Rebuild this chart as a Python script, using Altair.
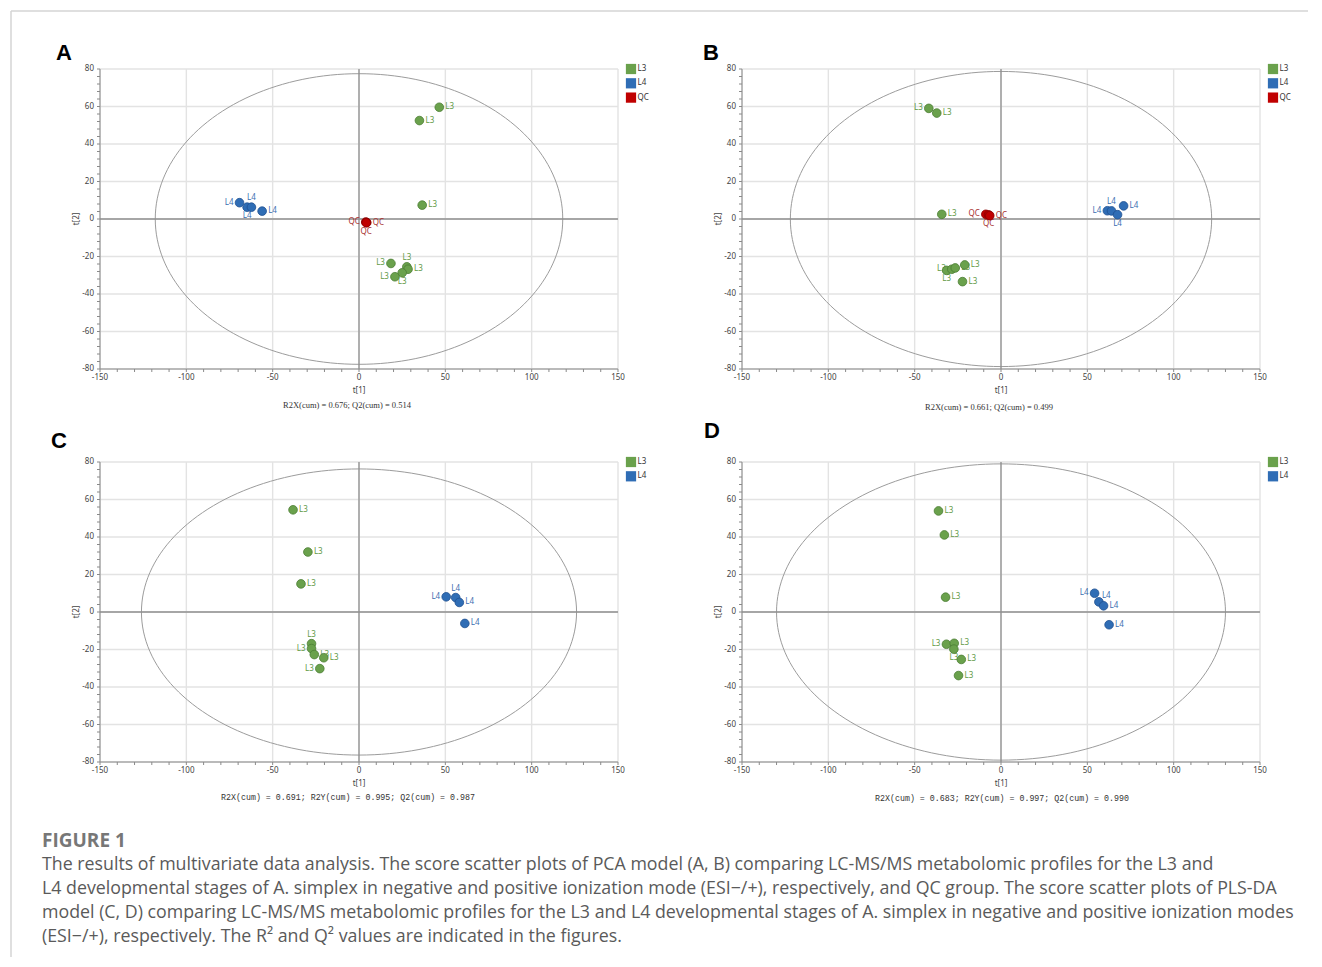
import altair as alt
import pandas as pd

# ---------------- data ----------------
A_t1 = [46.5, 35.0, 36.6, 18.5, 27.7, 28.4, 25.0, 20.8, -69.2, -64.8, -62.3, -56.1, 3.9, 4.5, 4.2]
A_t2 = [59.6, 52.5, 7.4, -23.7, -25.5, -26.8, -28.7, -30.8, 8.7, 6.3, 6.3, 4.2, -1.6, -1.9, -2.0]
A_group = ["L3", "L3", "L3", "L3", "L3", "L3", "L3", "L3", "L4", "L4", "L4", "L4", "QC", "QC", "QC"]
A_side = ["right", "right", "right", "left", "top", "right", "bottom", "left",
          "left", "bottom", "top", "right", "left", "right", "bottom"]

B_t1 = [-41.8, -37.2, -34.3, -31.5, -28.5, -26.5, -21.0, -22.3, 61.6, 64.0, 67.5, 71.0, -8.8, -7.2, -6.5]
B_t2 = [59.0, 56.5, 2.5, -27.4, -26.8, -26.1, -24.5, -33.4, 4.4, 4.3, 2.3, 7.0, 2.5, 2.2, 1.8]
B_group = ["L3", "L3", "L3", "L3", "L3", "L3", "L3", "L3", "L4", "L4", "L4", "L4", "QC", "QC", "QC"]
B_side = ["left", "right", "right", "bottom", "left", "right", "right", "right",
          "left", "top", "bottom", "right", "left", "bottom", "right"]

C_t1 = [-38.2, -29.6, -33.6, -27.5, -27.5, -25.9, -20.4, -22.7, 50.5, 56.0, 58.1, 61.3]
C_t2 = [54.5, 32.0, 15.0, -16.9, -19.5, -22.7, -24.4, -30.2, 8.1, 7.7, 5.1, -6.1]
C_group = ["L3", "L3", "L3", "L3", "L3", "L3", "L3", "L3", "L4", "L4", "L4", "L4"]
C_side = ["right", "right", "right", "top", "left", "right", "right", "left",
          "left", "top", "right", "right"]

D_t1 = [-36.2, -32.8, -32.1, -31.6, -27.1, -27.3, -23.0, -24.6, 54.2, 56.7, 59.4, 62.6]
D_t2 = [53.9, 41.1, 7.9, -17.2, -16.7, -19.8, -25.3, -33.9, 10.0, 5.4, 3.3, -6.8]
D_group = ["L3", "L3", "L3", "L3", "L3", "L3", "L3", "L3", "L4", "L4", "L4", "L4"]
D_side = ["right", "right", "right", "left", "right", "bottom", "right", "right",
          "left", "topright", "right", "right"]

# Hotelling T2 ellipse semi-axes (t[1], t[2]) per panel
ELLIPSE = {"A": (118, 77.5), "B": (122, 78.7), "C": (126, 76.3), "D": (130, 79.0)}

SUBTITLES = {
    "A": "R2X(cum) = 0.676; Q2(cum) = 0.514",
    "B": "R2X(cum) = 0.661; Q2(cum) = 0.499",
    "C": "R2X(cum) = 0.691; R2Y(cum) = 0.995; Q2(cum) = 0.987",
    "D": "R2X(cum) = 0.683; R2Y(cum) = 0.997; Q2(cum) = 0.990",
}

X_MAJOR = [-150, -100, -50, 0, 50, 100, 150]
Y_MAJOR = [-80, -60, -40, -20, 0, 20, 40, 60, 80]
X_TICKS = list(range(-150, 151, 10))
Y_TICKS = list(range(-80, 81, 4))
X_TITLE, Y_TITLE = "t[1]", "t[2]"

FILL = {"L3": "#6aa14c", "L4": "#2f6db5", "QC": "#c00000"}
STROKE = {"L3": "#4b7d33", "L4": "#1f5190", "QC": "#8a0000"}
TEXTC = {"L3": "#5f9a45", "L4": "#3b6eb0", "QC": "#a83232"}

CAPTION_HEAD = "FIGURE 1"
CAPTION = ("The results of multivariate data analysis. The score scatter plots of PCA model (A, B) comparing LC-MS/MS metabolomic profiles for the L3 and\n"
           "L4 developmental stages of A. simplex in negative and positive ionization mode (ESI\u2212/+), respectively, and QC group. The score scatter plots of PLS-DA\n"
           "model (C, D) comparing LC-MS/MS metabolomic profiles for the L3 and L4 developmental stages of A. simplex in negative and positive ionization modes\n"
           "(ESI\u2212/+), respectively. The R\u00b2 and Q\u00b2 values are indicated in the figures.")

TICK_FONT = "Noto Sans"
AX_COL = "#8a8a8a"
LAB_COL = "#444444"
W, H = 518, 300


def one():
    return alt.Chart(pd.DataFrame({"k": [0]}))


def panel(key, t1, t2, grp, side, letter_xy, sub_xy, sub_font, extra=()):
    dom = [g for g in ["L3", "L4", "QC"] if g in grp]
    df = pd.DataFrame({"t1": t1, "t2": t2, "group": grp, "side": side})
    xs = alt.Scale(domain=[-150, 150], nice=False, zero=False)
    ys = alt.Scale(domain=[-80, 80], nice=False, zero=False)

    def X(f):
        return alt.X(f, type="quantitative", scale=xs, axis=None)

    def Y(f):
        return alt.Y(f, type="quantitative", scale=ys, axis=None)

    xmaj = pd.DataFrame({"g": X_MAJOR})
    ymaj = pd.DataFrame({"g": Y_MAJOR})
    # grid
    gridx = alt.Chart(xmaj).mark_rule(color="#e3e3e3", strokeWidth=1.4).encode(x=X("g"))
    gridy = alt.Chart(ymaj).mark_rule(color="#e3e3e3", strokeWidth=1.4).encode(y=Y("g"))
    # axis lines, ticks and labels
    xdom = one().mark_rule(color=AX_COL, strokeWidth=1).encode(
        x=alt.value(0), x2=alt.value(W), y=alt.value(H))
    ydom = one().mark_rule(color=AX_COL, strokeWidth=1).encode(
        y=alt.value(0), y2=alt.value(H), x=alt.value(0))
    xtick = alt.Chart(pd.DataFrame({"g": X_TICKS})).mark_rule(color=AX_COL, strokeWidth=1).encode(
        x=X("g"), y=alt.value(H), y2=alt.value(H + 3))
    ytick = alt.Chart(pd.DataFrame({"g": Y_TICKS})).mark_rule(color=AX_COL, strokeWidth=1).encode(
        y=Y("g"), x=alt.value(-3), x2=alt.value(0))
    xlab = alt.Chart(xmaj).transform_calculate(s="'' + datum.g").mark_text(
        font=TICK_FONT, fontSize=8, color=LAB_COL, align="center", baseline="top").encode(
        x=X("g"), y=alt.value(H + 5), text="s:N")
    ylab = alt.Chart(ymaj).transform_calculate(s="'' + datum.g").mark_text(
        font=TICK_FONT, fontSize=8, color=LAB_COL, align="right", baseline="middle").encode(
        y=Y("g"), x=alt.value(-6), text="s:N")
    xtitle = one().mark_text(text=X_TITLE, font=TICK_FONT, fontSize=8, color=LAB_COL,
                             align="center", baseline="middle").encode(
        x=alt.value(W / 2), y=alt.value(H + 22))
    ytitle = one().mark_text(text=Y_TITLE, font=TICK_FONT, fontSize=8, color=LAB_COL, angle=270,
                             align="center", baseline="middle").encode(
        x=alt.value(-23), y=alt.value(H / 2))

    a, b = ELLIPSE[key]
    ell = alt.Chart(alt.sequence(0, 362, 2, as_="deg")).transform_calculate(
        ex=f"{a}*cos(datum.deg*PI/180)", ey=f"{b}*sin(datum.deg*PI/180)"
    ).mark_line(color="#9c9c9c", strokeWidth=1).encode(x=X("ex"), y=Y("ey"), order="deg:Q")
    zero = pd.DataFrame({"v": [0]})
    vz = alt.Chart(zero).mark_rule(color="#8f8f8f", strokeWidth=1.3).encode(x=X("v"))
    hz = alt.Chart(zero).mark_rule(color="#8f8f8f", strokeWidth=1.3).encode(y=Y("v"))

    text_fill = alt.Fill("group:N", scale=alt.Scale(domain=dom, range=[TEXTC[g] for g in dom]), legend=None)
    sides = {
        "right": dict(align="left", baseline="middle", dx=6, dy=0),
        "left": dict(align="right", baseline="middle", dx=-6, dy=0),
        "top": dict(align="center", baseline="bottom", dx=0, dy=-5),
        "bottom": dict(align="center", baseline="top", dx=0, dy=5),
        "topright": dict(align="left", baseline="bottom", dx=3, dy=-2),
    }
    label_layers = []
    for s, props in sides.items():
        if s in side:
            label_layers.append(
                alt.Chart(df).transform_filter(f"datum.side == '{s}'").mark_text(
                    font=TICK_FONT, fontSize=8, **props
                ).encode(x=X("t1"), y=Y("t2"), text="group:N", fill=text_fill)
            )
    pts = alt.Chart(df).mark_circle(size=75, opacity=1, strokeWidth=0.8).encode(
        x=X("t1"), y=Y("t2"),
        color=alt.Color("group:N", scale=alt.Scale(domain=dom, range=[FILL[g] for g in dom]), legend=None),
        stroke=alt.Stroke("group:N", scale=alt.Scale(domain=dom, range=[STROKE[g] for g in dom]), legend=None),
    )
    # legend (top right, outside the plot area)
    legend = []
    for i, g in enumerate(dom):
        legend.append(one().mark_square(size=105, opacity=1, color=FILL[g]).encode(
            x=alt.value(W + 13), y=alt.value(i * 14.3)))
        legend.append(one().mark_text(text=g, font=TICK_FONT, fontSize=8, color="#333",
                                      align="left", baseline="middle").encode(
            x=alt.value(W + 19.5), y=alt.value(i * 14.3)))

    letter = one().mark_text(text=key, font="Liberation Sans", fontSize=22, fontWeight="bold",
                             align="center", baseline="middle", color="#000").encode(
        x=alt.value(letter_xy[0]), y=alt.value(letter_xy[1]))
    sub = one().mark_text(text=SUBTITLES[key], font=sub_font, fontSize=8.3 if "Mono" in sub_font else 8.5,
                          align="center", baseline="middle", color="#333").encode(
        x=alt.value(sub_xy[0]), y=alt.value(sub_xy[1]))
    layers = ([gridx, gridy, ell, vz, hz, xdom, ydom, xtick, ytick, xlab, ylab, xtitle, ytitle]
              + label_layers + [pts] + legend + [letter, sub] + list(extra))
    return alt.layer(*layers).properties(width=W, height=H)


# frame lines (page border of the figure) drawn in panel A coordinates
frame = [
    one().mark_rule(color="#d4d4d4", strokeWidth=1.5).encode(
        x=alt.value(-89), x2=alt.value(1208), y=alt.value(-58)),
    one().mark_rule(color="#d4d4d4", strokeWidth=1.5).encode(
        x=alt.value(-89), y=alt.value(-58), y2=alt.value(888)),
]

caption = [
    one().mark_text(text=CAPTION_HEAD, font="Open Sans", fontSize=19, fontWeight="bold", color="#777",
                    align="left", baseline="alphabetic").encode(x=alt.value(-58), y=alt.value(385)),
    one().mark_text(text=CAPTION, font="Open Sans", fontSize=17.8, color="#5a5a5a",
                    align="left", baseline="alphabetic", lineBreak="\n", lineHeight=24).encode(
        x=alt.value(-58), y=alt.value(408)),
]

pA = panel("A", A_t1, A_t2, A_group, A_side, (-36, -16), (247, 336), "Liberation Serif", extra=frame)
pB = panel("B", B_t1, B_t2, B_group, B_side, (-31, -16), (247, 338), "Liberation Serif")
pC = panel("C", C_t1, C_t2, C_group, C_side, (-41, -21), (248, 336), "Liberation Mono", extra=caption)
pD = panel("D", D_t1, D_t2, D_group, D_side, (-30, -31), (260, 337), "Liberation Mono")

chart = alt.concat(
    pA, pB, pC, pD, columns=2, spacing={"row": 93, "column": 124}, bounds="flush"
).resolve_scale(
    color="independent", fill="independent", stroke="independent"
).properties(
    padding={"left": 2, "top": 2, "right": 0, "bottom": 0}, background="white"
).configure_view(stroke=None)

chart.save("out.html", embed_options={"renderer": "svg", "actions": False})
